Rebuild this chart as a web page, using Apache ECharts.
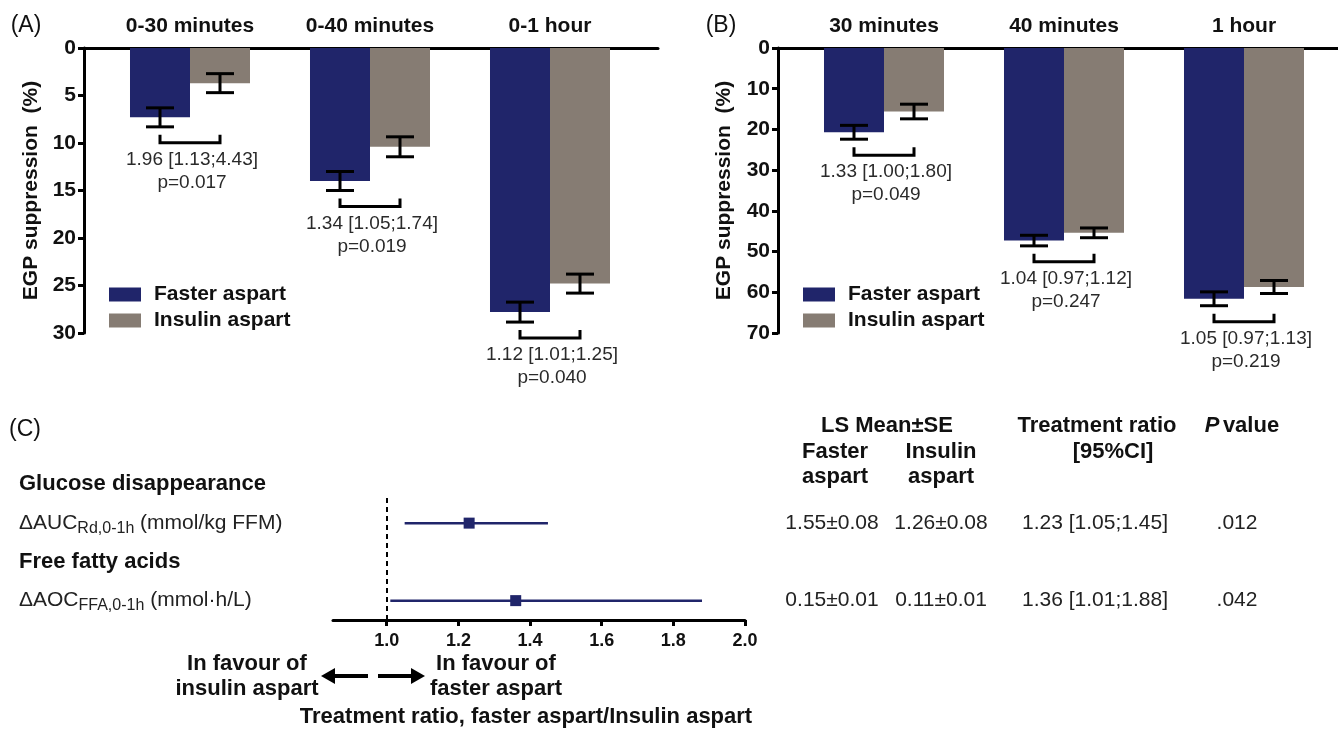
<!DOCTYPE html>
<html>
<head>
<meta charset="utf-8">
<script src="https://cdn.jsdelivr.net/npm/echarts@6/dist/echarts.min.js"></script>
<style>
html,body{margin:0;padding:0;background:#fff;}
#chart{width:1338px;height:729px;}
</style>
</head>
<body>
<div id="chart"></div>
<script>
// ---------- Data ----------
const seriesNames = ['Faster aspart', 'Insulin aspart'];

// Panel A: cumulative EGP suppression (%)
const catsA = ['0-30 minutes', '0-40 minutes', '0-1 hour'];
const fasterA = [7.3, 14.0, 27.8];
const insulinA = [3.7, 10.4, 24.8];
const fasterA_se = [1.0, 1.0, 1.05];
const insulinA_se = [1.0, 1.05, 1.0];
const ratioA = ['1.96 [1.13;4.43]', '1.34 [1.05;1.74]', '1.12 [1.01;1.25]'];
const pA = ['p=0.017', 'p=0.019', 'p=0.040'];
const ticksA = {min: 0, max: 30, interval: 5};

// Panel B: EGP suppression at time points (%)
const catsB = ['30 minutes', '40 minutes', '1 hour'];
const fasterB = [20.7, 47.3, 61.6];
const insulinB = [15.6, 45.4, 58.7];
const fasterB_se = [1.7, 1.3, 1.7];
const insulinB_se = [1.8, 1.2, 1.6];
const ratioB = ['1.33 [1.00;1.80]', '1.04 [0.97;1.12]', '1.05 [0.97;1.13]'];
const pB = ['p=0.049', 'p=0.247', 'p=0.219'];
const ticksB = {min: 0, max: 70, interval: 10};

// Panel C: forest plot
const forestRows = ['Glucose disappearance', 'ΔAUC|Rd,0-1h| (mmol/kg FFM)', 'Free fatty acids', 'ΔAOC|FFA,0-1h| (mmol·h/L)'];
const forestRowIsHeader = [true, false, true, false];
const forestEst = [null, 1.23, null, 1.36];
const forestLo = [null, 1.05, null, 1.01];
const forestHi = [null, 1.45, null, 1.88];
const forestTicks = [1.0, 1.2, 1.4, 1.6, 1.8, 2.0];
const refRatio = 1.0;
const meanFaster = ['', '1.55±0.08', '', '0.15±0.01'];
const meanInsulin = ['', '1.26±0.08', '', '0.11±0.01'];
const ratioCI = ['', '1.23 [1.05;1.45]', '', '1.36 [1.01;1.88]'];
const pValues = ['', '.012', '', '.042'];

// ---------- Styling ----------
const NAVY = '#20256a';
const GRAY = '#867c73';
const FONT = '"Liberation Sans", Arial, Helvetica, sans-serif';

const chart = echarts.init(document.getElementById('chart'), null, {renderer: 'canvas'});

function errorSeries(xi, yi, means, ses, sign) {
  return {
    type: 'custom', xAxisIndex: xi, yAxisIndex: yi, clip: false, z: 5, silent: true,
    data: means.map((m, i) => [i, m, ses[i]]),
    renderItem: function (params, api) {
      const i = api.value(0), m = api.value(1), s = api.value(2);
      const c = api.coord([i, m]);
      const band = api.size([1, 0])[0];
      const x = c[0] + sign * band / 6;
      const y1 = api.coord([i, m - s])[1];
      const y2 = api.coord([i, m + s])[1];
      const hw = band * 14 / 180;
      const st = {stroke: '#000', lineWidth: 3};
      return {type: 'group', children: [
        {type: 'line', shape: {x1: x, y1: y1, x2: x, y2: y2}, style: st},
        {type: 'line', shape: {x1: x - hw, y1: y1, x2: x + hw, y2: y1}, style: st},
        {type: 'line', shape: {x1: x - hw, y1: y2, x2: x + hw, y2: y2}, style: st}
      ]};
    }
  };
}

function bracketSeries(xi, yi, means, ses, ratios, ps) {
  return {
    type: 'custom', xAxisIndex: xi, yAxisIndex: yi, clip: false, z: 5, silent: true,
    data: means.map((m, i) => [i, m + ses[i]]),
    renderItem: function (params, api) {
      const i = api.value(0), v = api.value(1);
      const c = api.coord([i, v]);
      const band = api.size([1, 0])[0];
      const x1 = c[0] - band / 6, x2 = c[0] + band / 6;
      const y0 = c[1] + 16;
      return {type: 'group', children: [
        {type: 'polyline', shape: {points: [[x1, y0 - 8], [x1, y0], [x2, y0], [x2, y0 - 8]]},
         style: {stroke: '#000', lineWidth: 3, fill: null}},
        {type: 'text', style: {text: ratios[params.dataIndex], x: c[0] + 2, y: y0 + 17,
          align: 'center', verticalAlign: 'middle', fontSize: 19, fontFamily: FONT, fill: '#2a2a2a'}},
        {type: 'text', style: {text: ps[params.dataIndex], x: c[0] + 2, y: y0 + 40,
          align: 'center', verticalAlign: 'middle', fontSize: 19, fontFamily: FONT, fill: '#2a2a2a'}}
      ]};
    }
  };
}

function catAxis(grid, cats) {
  return {
    type: 'category', gridIndex: grid, data: cats, position: 'top',
    axisLine: {show: false}, axisTick: {show: false}, splitLine: {show: false},
    axisLabel: {fontSize: 21, fontWeight: 'bold', color: '#111', margin: 11, fontFamily: FONT}
  };
}
function frameXAxis(grid) {
  return {
    type: 'value', gridIndex: grid, min: 0, max: 1, position: 'top',
    axisLine: {show: true, onZero: false, lineStyle: {color: '#000', width: 3}},
    axisTick: {show: false}, axisLabel: {show: false}, splitLine: {show: false}
  };
}
function hiddenYAxis(grid, t) {
  return {type: 'value', gridIndex: grid, inverse: true, min: t.min, max: t.max, show: false};
}
function frameYAxis(grid, t, gap) {
  return {
    type: 'value', gridIndex: grid, inverse: true, min: t.min, max: t.max, interval: t.interval,
    name: 'EGP suppression  (%)', nameLocation: 'middle', nameGap: gap, nameRotate: 90,
    nameTextStyle: {fontSize: 21, fontWeight: 'bold', color: '#111', fontFamily: FONT},
    axisLine: {show: true, onZero: false, lineStyle: {color: '#000', width: 3}},
    axisTick: {show: true, length: 6, lineStyle: {color: '#000', width: 3}},
    axisLabel: {fontSize: 21, fontWeight: 'bold', color: '#111', margin: 8, fontFamily: FONT},
    splitLine: {show: false}
  };
}
function tableAxis(values, center) {
  return {
    type: 'value', gridIndex: 4, inverse: true, min: 0, max: 4, position: 'right',
    axisLine: {show: false}, axisTick: {show: false}, splitLine: {show: false},
    axisLabel: {customValues: [1.5, 3.5], formatter: v => values[Math.floor(v)],
      align: 'center', margin: center - 745, fontSize: 21, color: '#222', fontFamily: FONT}
  };
}
function legendAt(left) {
  return {
    left: left, top: 279, orient: 'vertical', icon: 'rect', itemWidth: 32, itemHeight: 14, itemGap: 5,
    data: seriesNames, selectedMode: false,
    textStyle: {fontSize: 21, fontWeight: 'bold', color: '#111', padding: [0, 0, 0, 8], fontFamily: FONT}
  };
}

function hText(text, x, y, opts) {
  return Object.assign({type: 'text', x: x, y: y, silent: true,
    style: Object.assign({text: text, align: 'center', verticalAlign: 'middle', fontSize: 22,
      fontWeight: 'bold', fill: '#111', fontFamily: FONT}, opts || {})});
}

const option = {
  animation: false,
  backgroundColor: '#fff',
  textStyle: {fontFamily: FONT},
  grid: [
    {left: 100, top: 48, width: 540, height: 285},   // 0 A bars
    {left: 84, top: 48, width: 574, height: 285},    // 1 A frame
    {left: 794, top: 48, width: 540, height: 285},   // 2 B bars
    {left: 778, top: 48, width: 560, height: 285},   // 3 B frame
    {left: 333, top: 465, width: 412, height: 155}   // 4 C forest
  ],
  legend: [legendAt(104), legendAt(798)],
  xAxis: [
    catAxis(0, catsA), frameXAxis(1), catAxis(2, catsB), frameXAxis(3),
    {
      type: 'value', gridIndex: 4, min: 0.85, max: 2.0, position: 'bottom',
      axisLine: {show: true, onZero: false, lineStyle: {color: '#000', width: 3}},
      axisTick: {show: true, customValues: forestTicks, length: 6, lineStyle: {color: '#000', width: 3}},
      axisLabel: {customValues: forestTicks, formatter: v => v.toFixed(1), fontSize: 18,
        fontWeight: 'bold', color: '#111', margin: 12, fontFamily: FONT},
      splitLine: {show: false}
    }
  ],
  yAxis: [
    hiddenYAxis(0, ticksA), frameYAxis(1, ticksA, 42), hiddenYAxis(2, ticksB), frameYAxis(3, ticksB, 43),
    {
      type: 'value', gridIndex: 4, inverse: true, min: 0, max: 4,
      axisLine: {show: false}, axisTick: {show: false}, splitLine: {show: false},
      axisLabel: {
        customValues: [0.5, 1.5, 2.5, 3.5], align: 'left', margin: 314,
        formatter: function (v) {
          const i = Math.floor(v);
          if (forestRowIsHeader[i]) return '{h|' + forestRows[i] + '}';
          const parts = forestRows[i].split('|');
          return '{n|' + parts[0] + '}{s|' + parts[1] + '}{n|' + parts[2] + '}';
        },
        rich: {
          h: {fontSize: 22, fontWeight: 'bold', color: '#111', fontFamily: FONT},
          n: {fontSize: 21, color: '#222', fontFamily: FONT},
          s: {fontSize: 16, color: '#222', fontFamily: FONT, padding: [10, 0, 0, 0]}
        }
      }
    },
    tableAxis(meanFaster, 832), tableAxis(meanInsulin, 941), tableAxis(ratioCI, 1095), tableAxis(pValues, 1237)
  ],
  series: [
    {name: seriesNames[0], type: 'bar', xAxisIndex: 0, yAxisIndex: 0, data: fasterA,
     itemStyle: {color: NAVY}, barGap: '0%', barCategoryGap: '33.33%', silent: true},
    {name: seriesNames[1], type: 'bar', xAxisIndex: 0, yAxisIndex: 0, data: insulinA,
     itemStyle: {color: GRAY}, barGap: '0%', barCategoryGap: '33.33%', silent: true},
    errorSeries(0, 0, fasterA, fasterA_se, -1),
    errorSeries(0, 0, insulinA, insulinA_se, 1),
    bracketSeries(0, 0, fasterA, fasterA_se, ratioA, pA),

    {name: seriesNames[0], type: 'bar', xAxisIndex: 2, yAxisIndex: 2, data: fasterB,
     itemStyle: {color: NAVY}, barGap: '0%', barCategoryGap: '33.33%', silent: true},
    {name: seriesNames[1], type: 'bar', xAxisIndex: 2, yAxisIndex: 2, data: insulinB,
     itemStyle: {color: GRAY}, barGap: '0%', barCategoryGap: '33.33%', silent: true},
    errorSeries(2, 2, fasterB, fasterB_se, -1),
    errorSeries(2, 2, insulinB, insulinB_se, 1),
    bracketSeries(2, 2, fasterB, fasterB_se, ratioB, pB),

    {
      type: 'custom', xAxisIndex: 4, yAxisIndex: 4, clip: false, silent: true, z: 6,
      data: forestEst.map((e, i) => e == null ? null : [forestLo[i], forestHi[i], e, i + 0.5]).filter(d => d),
      encode: {x: [0, 1, 2], y: 3},
      renderItem: function (params, api) {
        const row = api.value(3);
        const p1 = api.coord([api.value(0), row]);
        const p2 = api.coord([api.value(1), row]);
        const pe = api.coord([api.value(2), row]);
        return {type: 'group', children: [
          {type: 'line', shape: {x1: p1[0], y1: p1[1], x2: p2[0], y2: p2[1]},
           style: {stroke: NAVY, lineWidth: 2.5}},
          {type: 'rect', shape: {x: pe[0] - 5.5, y: pe[1] - 5.5, width: 11, height: 11},
           style: {fill: NAVY}}
        ]};
      },
      markLine: {
        silent: true, symbol: 'none', label: {show: false},
        lineStyle: {color: '#000', width: 2, type: [5, 4]},
        data: [[{coord: [refRatio, 0.85]}, {coord: [refRatio, 4]}]]
      }
    }
  ],
  graphic: [
    hText('(A)', 26, 26, {fontWeight: 'normal', fontSize: 23}),
    hText('(B)', 721, 26, {fontWeight: 'normal', fontSize: 23}),
    hText('(C)', 25, 430, {fontWeight: 'normal', fontSize: 23}),
    hText('LS Mean±SE', 887, 426),
    hText('Faster\naspart', 835, 464, {lineHeight: 25}),
    hText('Insulin\naspart', 941, 464, {lineHeight: 25}),
    hText('Treatment ratio', 1097, 426),
    hText('[95%CI]', 1113, 452),
    {type: 'text', x: 1242, y: 426, silent: true, style: {
      text: '{i|P} {b|value}', align: 'center', verticalAlign: 'middle', fontFamily: FONT,
      rich: {i: {fontSize: 22, fontWeight: 'bold', fontStyle: 'italic', fill: '#111', fontFamily: FONT},
             b: {fontSize: 22, fontWeight: 'bold', fill: '#111', fontFamily: FONT}}}},
    hText('In favour of\ninsulin aspart', 247, 676, {lineHeight: 25}),
    hText('In favour of\nfaster aspart', 496, 676, {lineHeight: 25}),
    hText('Treatment ratio, faster aspart/Insulin aspart', 526, 717),
    {type: 'line', silent: true, shape: {x1: 332, y1: 676, x2: 368, y2: 676}, style: {stroke: '#000', lineWidth: 4}},
    {type: 'polygon', silent: true, shape: {points: [[321, 676], [335, 668], [335, 684]]}, style: {fill: '#000'}},
    {type: 'line', silent: true, shape: {x1: 378, y1: 676, x2: 414, y2: 676}, style: {stroke: '#000', lineWidth: 4}},
    {type: 'polygon', silent: true, shape: {points: [[425, 676], [411, 668], [411, 684]]}, style: {fill: '#000'}}
  ]
};

chart.setOption(option);
</script>
</body>
</html>
